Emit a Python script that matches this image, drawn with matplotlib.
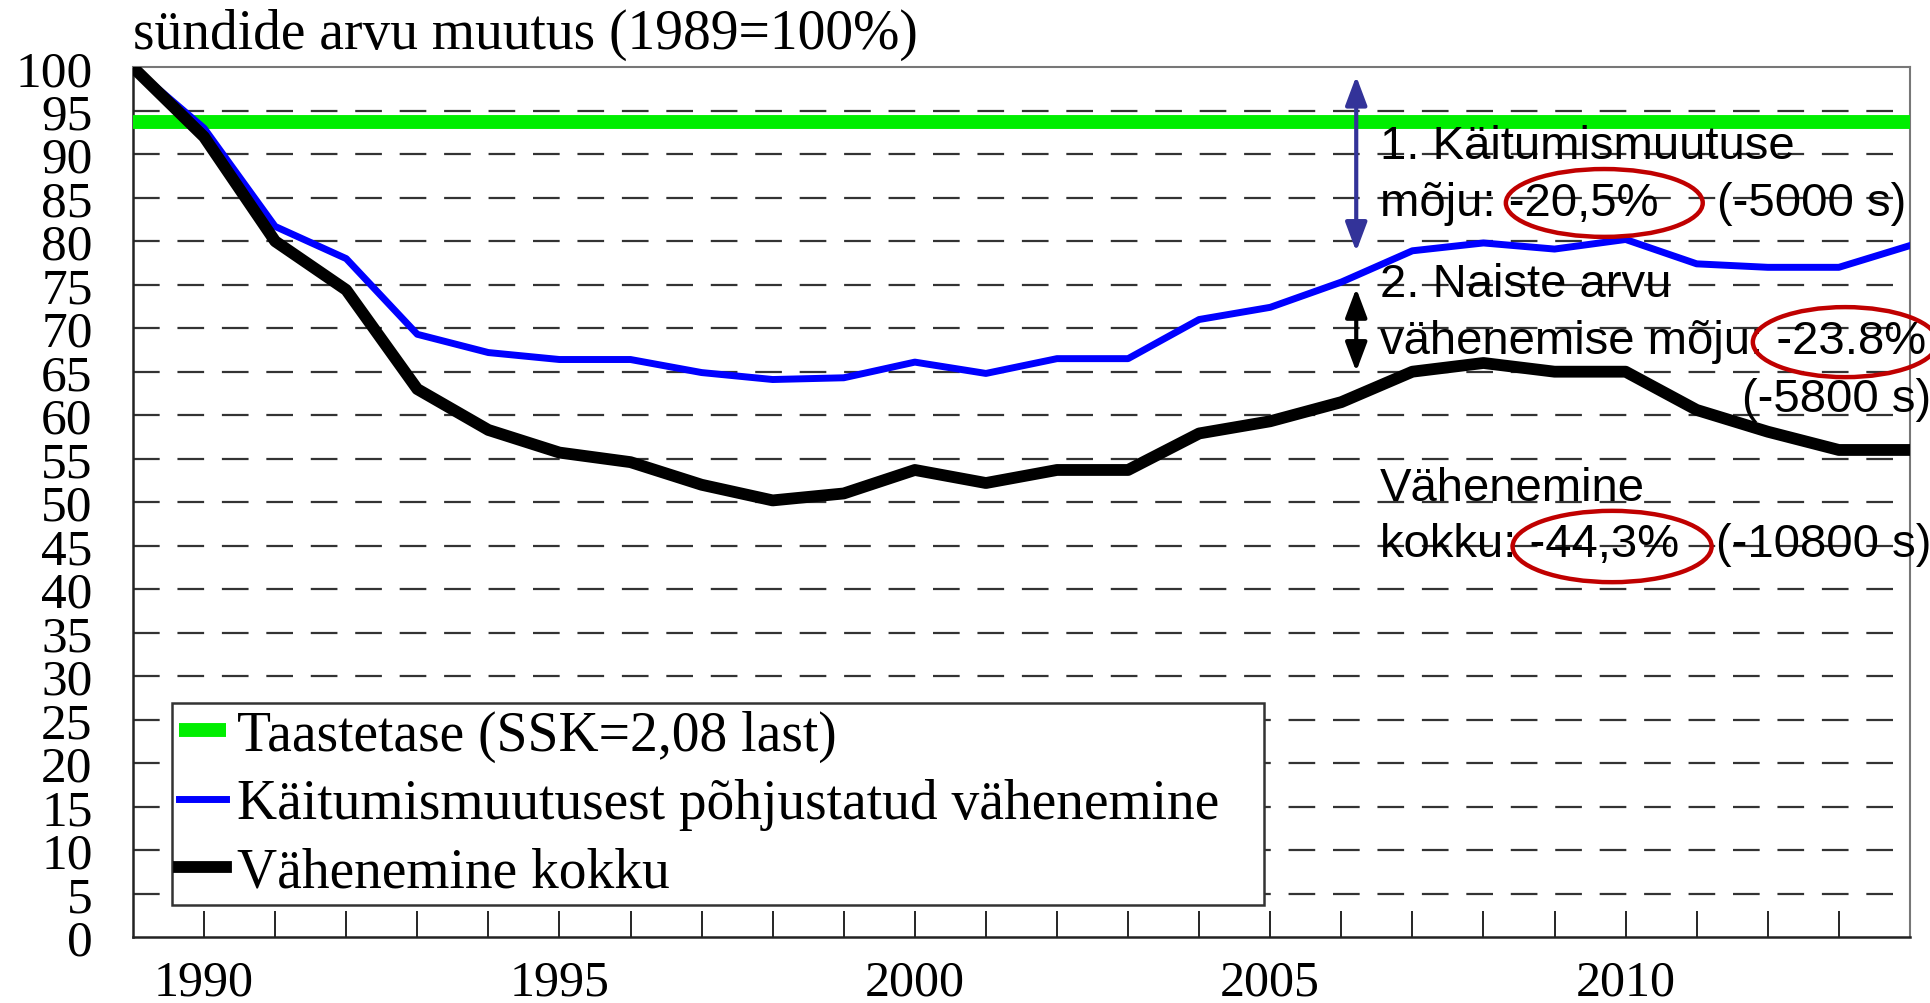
import matplotlib
matplotlib.use("Agg")
import matplotlib.pyplot as plt
from matplotlib.patches import Ellipse

years = list(range(1989, 2015))
kokku = [100, 92, 80, 74.4, 63, 58.3, 55.7, 54.6, 52, 50.2, 51, 53.7, 52.2, 53.7, 53.7,
         57.9, 59.3, 61.5, 65, 66, 65, 65, 60.6, 58.1, 56, 56]
kaitumine = [100, 93, 81.7, 78, 69.3, 67.2, 66.4, 66.4, 64.9, 64.1, 64.3, 66.1, 64.8, 66.5, 66.5,
             71, 72.4, 75.3, 78.9, 79.8, 79.1, 80.2, 77.4, 77, 77, 79.5]
taastetase = 93.7
yticks = list(range(0, 101, 5))
xlabel_years = [1990, 1995, 2000, 2005, 2010]

serif = "Liberation Serif"
sans = "Liberation Sans"

fig = plt.figure(figsize=(19.3, 10.04), dpi=100)
ax = fig.add_axes([0.0689, 0.0657, 0.9207, 0.8663])

ax.plot(years, [taastetase] * len(years), color="#00ee00", lw=10, solid_capstyle="butt",
        label="Taastetase (SSK=2,08 last)", zorder=3)
ax.plot(years, kaitumine, color="#0000ff", lw=5, label="Käitumismuutusest põhjustatud vähenemine", zorder=4)
ax.plot(years, kokku, color="black", lw=8.5, label="Vähenemine kokku", zorder=5)

ax.set_xlim(1989, 2014)
ax.set_ylim(0, 100)
ax.set_yticks(yticks)
ax.set_yticklabels([str(v) for v in yticks], family=serif, fontsize=37)
ax.tick_params(axis="y", length=0, pad=29)
ax.set_xticks(range(1990, 2014))
ax.set_xticklabels([str(y) if y in xlabel_years else "" for y in range(1990, 2014)],
                   family=serif, fontsize=36)
ax.tick_params(axis="x", direction="in", length=19, width=1.2, pad=16)

for v in yticks[1:-1]:
    ax.axhline(v, color="#333333", lw=1.6, linestyle=(0, (12, 8)), zorder=1)

for s in ["left", "bottom"]:
    ax.spines[s].set_linewidth(1.8)
    ax.spines[s].set_color("#222222")
for s in ["top", "right"]:
    ax.spines[s].set_linewidth(1.5)
    ax.spines[s].set_color("#777777")

ax.text(0, 1.008, "sündide arvu muutus (1989=100%)", transform=ax.transAxes, family=serif,
        fontsize=40, ha="left", va="bottom")

leg = ax.legend(loc="lower left", bbox_to_anchor=(0.0221, 0.0368, 0.6144, 0.2), mode="expand",
                borderaxespad=0, prop={"family": serif, "size": 40}, fancybox=False, framealpha=1,
                edgecolor="#333333", handlelength=0.85, handletextpad=0.2,
                labelspacing=0.29, borderpad=0.12)
leg.get_frame().set_linewidth(1.8)
leg.set_zorder(6)

# arrows
ax.annotate("", xy=(2006.21, 99.3), xytext=(2006.21, 78.5),
            arrowprops=dict(arrowstyle="<|-|>,head_length=0.8,head_width=0.3", mutation_scale=22,
                            color="#333399", lw=3), zorder=7)
ax.annotate("", xy=(2006.21, 74.9), xytext=(2006.21, 64.7),
            arrowprops=dict(arrowstyle="<|-|>,head_length=0.8,head_width=0.3", mutation_scale=22,
                            color="black", lw=3), zorder=7)

tk = dict(family=sans, fontsize=34, ha="left", va="baseline", clip_on=False, zorder=8)
ax.text(2006.54, 89.6, "1. Käitumismuutuse", **tk)
ax.text(2006.54, 83.0, "mõju: -20,5%", **tk)
ax.text(2011.28, 83.0, "(-5000 s)", **tk)
ax.text(2006.54, 73.7, "2. Naiste arvu", **tk)
ax.text(2006.54, 67.1, "vähenemise mõju: -23.8%", **tk)
ax.text(2011.64, 60.5, "(-5800 s)", **tk)
ax.text(2006.54, 50.2, "Vähenemine", **tk)
ax.text(2006.54, 43.8, "kokku: -44,3%", **tk)
ax.text(2011.27, 43.8, "(-10800 s)", **tk)

for cx, cy, w, h in [(2009.70, 84.4, 2.77, 7.8), (2013.09, 68.4, 2.6, 8.05), (2009.81, 44.9, 2.8, 8.2)]:
    ax.add_patch(Ellipse((cx, cy), w, h, fill=False, edgecolor="#c00000", lw=3.2,
                         clip_on=False, zorder=9))

fig.savefig("out.png", dpi=100)
